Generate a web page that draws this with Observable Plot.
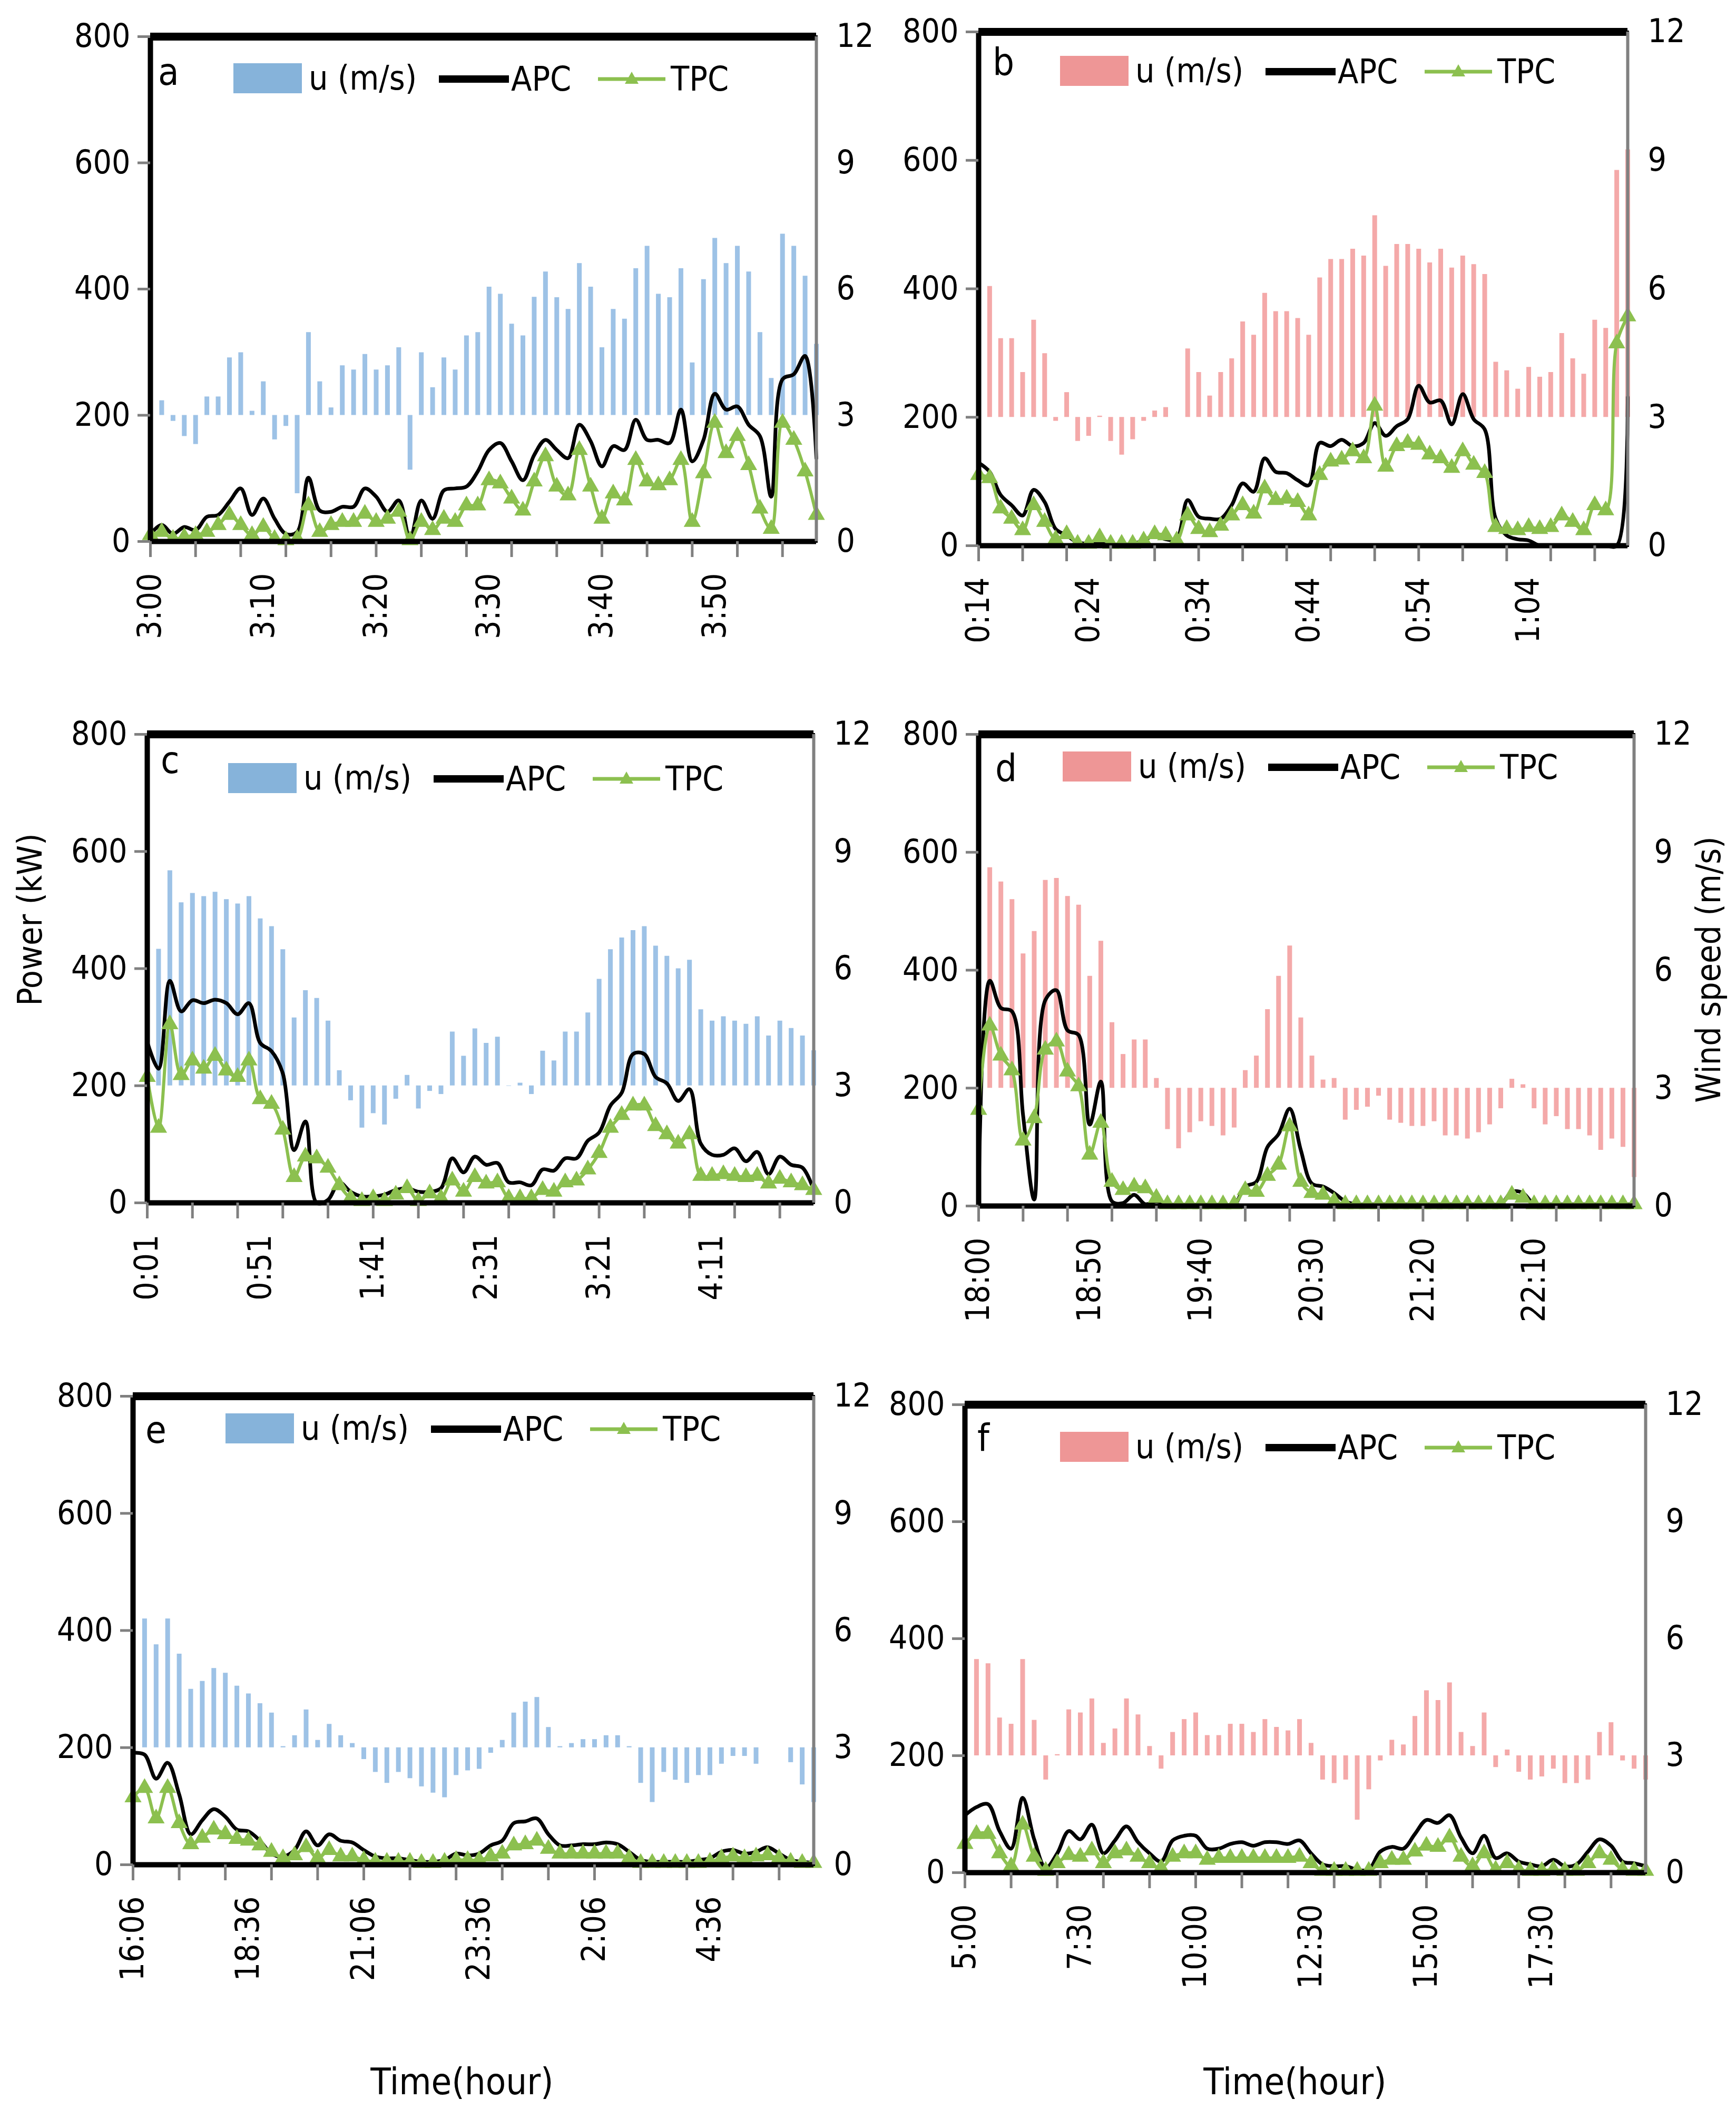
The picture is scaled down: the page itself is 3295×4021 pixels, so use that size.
<!DOCTYPE html>
<html>
<head>
<meta charset="utf-8">
<script src="https://cdn.jsdelivr.net/npm/d3@7"></script>
<script src="https://cdn.jsdelivr.net/npm/@observablehq/plot@0.6"></script>
<style>
  html, body { margin: 0; padding: 0; background: white; }
  #page { position: relative; width: 3295px; height: 4021px; background: white; overflow: hidden; }
  .title { position: absolute; font-family: "DejaVu Sans Condensed", "DejaVu Sans", sans-serif; font-stretch: condensed; color: black; white-space: nowrap; }
</style>
</head>
<body>
<div id="page"></div>
<script>
// wind speed u (m/s), 60 samples per panel
const uA = [3.0,3.35,2.86,2.50,2.31,3.44,3.44,4.37,4.49,3.10,3.80,2.42,2.74,1.14,4.97,3.80,3.18,4.18,4.08,4.45,4.08,4.18,4.61,1.70,4.49,3.66,4.37,4.08,4.89,4.97,6.05,5.88,5.17,4.89,5.81,6.41,5.80,5.52,6.61,6.05,4.61,5.52,5.29,6.49,7.02,5.88,5.80,6.49,4.25,6.23,7.21,6.61,7.02,6.41,4.97,3.88,7.31,7.02,6.31,4.69];
const uB = [6.0,6.06,4.84,4.84,4.05,5.27,4.49,2.91,3.58,2.44,2.56,3.03,2.44,2.12,2.48,2.91,3.15,3.23,3.0,4.60,4.05,3.50,4.05,4.37,5.23,4.92,5.90,5.47,5.47,5.31,4.92,6.26,6.69,6.69,6.93,6.77,7.71,6.53,7.04,7.04,6.93,6.61,6.93,6.49,6.77,6.57,6.34,4.29,4.09,3.66,4.17,3.94,4.05,4.96,4.37,4.01,5.27,5.08,8.77,9.25];
const uC = [3.0,6.50,8.51,7.69,7.93,7.85,7.96,7.77,7.66,7.85,7.28,7.08,6.49,4.74,5.44,5.24,4.66,3.39,2.62,1.92,2.29,2.00,2.66,3.27,2.41,2.86,2.78,4.38,3.76,4.46,4.09,4.25,2.99,3.07,2.78,3.89,3.64,4.38,4.38,4.87,5.73,6.49,6.79,6.98,7.08,6.58,6.32,6.00,6.22,4.95,4.66,4.77,4.66,4.58,4.77,4.28,4.66,4.47,4.28,3.90];
const uD = [7.1,8.61,8.25,7.80,6.42,6.99,8.29,8.34,7.88,7.66,5.85,6.74,4.67,3.86,4.23,4.23,3.25,1.95,1.46,1.87,2.15,2.03,1.79,1.99,3.45,3.82,5.00,5.85,6.62,4.79,3.82,3.21,3.25,2.19,2.44,2.52,2.80,2.19,2.11,2.03,2.03,2.15,1.79,1.79,1.71,1.87,2.07,2.48,3.23,3.09,2.48,2.07,2.28,1.95,1.95,1.79,1.42,1.71,1.50,0.73];
const uE = [3.0,6.30,5.64,6.30,5.40,4.50,4.70,5.03,4.91,4.58,4.38,4.13,3.89,3.03,3.31,3.97,3.19,3.60,3.31,3.11,2.70,2.37,2.09,2.37,2.21,2.00,1.84,1.72,2.29,2.41,2.45,2.86,3.19,3.89,4.17,4.29,3.52,3.03,3.11,3.21,3.21,3.31,3.31,3.03,2.09,1.60,2.37,2.17,2.09,2.29,2.29,2.58,2.78,2.78,2.58,3.0,3.0,2.62,2.05,1.60];
const uF = [3.0,5.47,5.36,3.97,3.81,5.47,3.91,2.38,3.03,4.18,4.10,4.46,3.32,3.69,4.46,4.05,3.24,2.66,3.60,3.93,4.10,3.52,3.52,3.81,3.81,3.60,3.93,3.73,3.64,3.93,3.32,2.38,2.29,2.38,1.35,2.13,2.87,3.40,3.28,4.01,4.67,4.42,4.87,3.60,3.24,4.10,2.70,3.15,2.58,2.38,2.46,2.66,2.29,2.29,2.38,3.60,3.85,2.87,2.66,2.38];

// actual power curve (kW)
const apcA = [12,26,12,23,18,39,42,63,84,42,68,36,12,15,101,49,47,55,55,84,71,47,65,4,65,36,81,84,87,111,145,156,127,97,137,161,145,132,185,159,119,151,145,193,161,161,156,209,127,161,234,209,214,185,167,71,257,265,294,132];
const apcB = [129,115,79,63,47,87,68,26,16,5,3,3,1,0,3,8,16,10,10,71,45,42,42,63,97,84,136,115,113,102,94,160,155,165,155,160,191,171,186,197,249,223,226,189,236,197,181,42,16,10,8,0,0,0,0,0,0,0,0,231];
const apcC = [275,229,379,327,346,341,347,341,322,341,273,259,221,90,139,0,5,35,19,11,11,14,22,25,19,19,25,76,52,79,65,68,35,35,30,57,55,76,76,106,120,166,188,254,254,215,204,174,194,101,82,82,93,71,87,49,79,65,60,22];
const apcD = [10,382,336,330,154,11,349,366,298,290,138,211,8,5,19,3,8,3,2,2,2,2,2,2,33,41,100,122,165,95,38,33,22,8,3,3,3,3,3,3,3,3,3,3,3,3,3,3,24,22,3,3,3,3,3,3,3,3,3,3];
const apcE = [191,188,147,174,120,52,76,95,82,60,57,41,19,14,25,57,33,52,41,38,25,14,11,11,8,5,5,8,19,16,19,33,41,71,74,79,52,33,33,35,35,38,35,22,8,5,5,5,5,8,11,22,25,19,22,30,19,8,5,3];
const apcF = [98,112,117,71,41,128,57,8,33,71,57,82,33,55,79,52,33,19,55,63,63,41,41,49,52,46,52,52,49,55,33,14,11,11,5,5,36,44,41,66,90,85,98,60,33,63,25,33,19,14,11,22,11,14,36,57,46,19,16,11];

// theoretical power curve (kW)
const tpcA = [10,15,4,7,10,15,26,42,26,10,23,4,2,4,57,15,26,31,31,44,31,36,47,2,31,18,36,31,57,57,97,92,68,49,95,135,87,73,145,87,36,76,65,129,95,89,97,129,31,108,188,140,167,121,52,20,188,161,111,42];
const tpcB = [110,105,58,42,24,63,37,10,18,3,3,13,3,3,3,8,18,16,8,47,26,21,31,47,63,50,89,71,73,68,47,110,131,134,147,136,218,123,155,160,157,142,136,121,147,126,113,29,26,24,29,26,29,47,37,24,63,55,315,357];
const tpcC = [215,128,305,218,243,229,251,226,215,243,177,169,125,44,79,76,60,30,8,3,8,3,14,25,3,16,8,38,19,44,33,35,8,8,8,22,19,35,38,57,85,128,150,166,166,131,117,101,117,46,46,49,46,44,46,33,41,35,30,22];
const tpcD = [163,306,255,230,111,149,265,279,228,203,87,141,41,27,33,30,14,3,3,3,3,3,3,3,27,24,51,70,135,41,22,19,8,3,3,3,3,3,3,3,3,3,3,3,3,3,3,3,19,14,3,3,3,3,3,3,3,3,3,3];
const tpcE = [115,131,79,131,71,35,46,60,52,44,41,33,22,11,16,30,11,25,14,14,8,5,5,5,5,3,3,5,8,8,8,14,19,33,35,41,27,19,19,19,19,19,19,11,3,3,3,3,3,3,5,11,14,11,14,16,11,5,3,3];
const tpcF = [49,66,66,33,11,82,27,3,16,30,27,38,16,33,38,27,16,8,27,33,33,22,25,25,25,25,25,25,25,27,16,3,3,3,3,3,16,22,22,36,46,44,60,27,11,33,5,16,5,3,3,5,3,3,16,33,22,5,3,3];

// time tick labels, one every 10 samples
const labelsA = ["3:00","3:10","3:20","3:30","3:40","3:50"];
const labelsB = ["0:14","0:24","0:34","0:44","0:54","1:04"];
const labelsC = ["0:01","0:51","1:41","2:31","3:21","4:11"];
const labelsD = ["18:00","18:50","19:40","20:30","21:20","22:10"];
const labelsE = ["16:06","18:36","21:06","23:36","2:06","4:36"];
const labelsF = ["5:00","7:30","10:00","12:30","15:00","17:30"];

const FONT = '"DejaVu Sans Condensed", "DejaVu Sans", "Liberation Sans Narrow", sans-serif';
const BLUE = "#9dc2e6", BLUE_SW = "#86b3da";
const PINK = "#f4a9a9", PINK_SW = "#ee9696";
const GREEN = "#8cc04f";
const GRAY = "#808080";
const M = {left: 200, right: 150, top: 40, bottom: 300};

const panels = [
  {letter: "a", u: uA, apc: apcA, tpc: tpcA, labels: labelsA, bar: BLUE, swatch: BLUE_SW, box: [285, 1549, 69, 1027], lx: 158, ly: 51, tx: 15, ty: 92},
  {letter: "b", u: uB, apc: apcB, tpc: tpcB, labels: labelsB, bar: PINK, swatch: PINK_SW, box: [1857, 3089, 60, 1035], lx: 155, ly: 46, tx: 27, ty: 82},
  {letter: "c", u: uC, apc: apcC, tpc: tpcC, labels: labelsC, bar: BLUE, swatch: BLUE_SW, box: [279, 1544, 1393, 2282], lx: 154, ly: 55, tx: 26, ty: 74},
  {letter: "d", u: uD, apc: apcD, tpc: tpcD, labels: labelsD, bar: PINK, swatch: PINK_SW, box: [1857, 3101, 1393, 2288], lx: 160, ly: 33, tx: 32, ty: 89},
  {letter: "e", u: uE, apc: apcE, tpc: tpcE, labels: labelsE, bar: BLUE, swatch: BLUE_SW, box: [252, 1544, 2649, 3538], lx: 176, ly: 33, tx: 24, ty: 89},
  {letter: "f", u: uF, apc: apcF, tpc: tpcF, labels: labelsF, bar: PINK, swatch: PINK_SW, box: [1831, 3123, 2665, 3553], lx: 181, ly: 52, tx: 24, ty: 88}
];

const page = document.getElementById("page");

function drawPanel(p) {
  const [L, R, T, B] = p.box;
  const data = p.u.map((u, i) => ({i, u, apc: p.apc[i], tpc: p.tpc[i]}));
  const svg = Plot.plot({
    width: (R - L) + M.left + M.right,
    height: (B - T) + M.top + M.bottom,
    marginLeft: M.left, marginRight: M.right, marginTop: M.top, marginBottom: M.bottom,
    style: {fontFamily: FONT, fontSize: "62px", color: "black", background: "transparent", overflow: "visible"},
    x: {domain: [0, 59], axis: null},
    y: {domain: [0, 800], axis: null},
    marks: [
      // wind speed bars hang from 3 m/s (= 200 kW on the left axis)
      Plot.ruleX(data, {x: "i", y1: 200, y2: d => d.u * 800 / 12, stroke: p.bar, strokeWidth: 9}),
      Plot.line(data, {x: "i", y: "apc", stroke: "black", strokeWidth: 7, curve: "catmull-rom"}),
      Plot.line(data, {x: "i", y: "tpc", stroke: GREEN, strokeWidth: 6, curve: "catmull-rom"}),
      Plot.dot(data, {x: "i", y: "tpc", symbol: "triangle", r: 12, fill: GREEN, stroke: null}),
      Plot.frame({stroke: "black", strokeWidth: 5}),
      Plot.ruleY([800], {stroke: "black", strokeWidth: 15}),
      Plot.ruleY([0], {stroke: "black", strokeWidth: 10}),
      Plot.ruleX([0], {stroke: "black", strokeWidth: 10}),
      Plot.ruleX([59], {stroke: GRAY, strokeWidth: 6}),
      Plot.axisY({ticks: [0, 200, 400, 600, 800], tickSize: 24, tickPadding: 14, stroke: GRAY, strokeWidth: 5, fill: "black", label: null}),
      Plot.axisY({anchor: "right", ticks: [0, 200, 400, 600, 800], tickFormat: d => d * 12 / 800, tickSize: 0, tickPadding: 38, fill: "black", label: null}),
      Plot.axisX({ticks: d3.range(0, 60, 4), tickSize: 30, tickFormat: () => "", stroke: GRAY, strokeWidth: 5, label: null}),
      Plot.axisX({ticks: d3.range(0, 60, 10), tickFormat: i => p.labels[i / 10], tickRotate: -90, tickSize: 0, tickPadding: 60, fill: "black", label: null})
    ]
  });
  svg.style.position = "absolute";
  svg.style.left = (L - M.left) + "px";
  svg.style.top = (T - M.top) + "px";
  svg.style.maxWidth = "none";

  // panel letter and legend inside the frame
  const g = d3.select(svg).append("g")
    .attr("font-family", FONT).attr("fill", "black").attr("text-anchor", "start");
  g.append("text").attr("x", M.left + p.tx).attr("y", M.top + p.ty).attr("font-size", 72).text(p.letter);
  const lg = g.append("g").attr("transform", `translate(${M.left + p.lx},${M.top + p.ly})`).attr("font-size", 64);
  lg.append("rect").attr("width", 130).attr("height", 57).attr("fill", p.swatch);
  lg.append("text").attr("x", 143).attr("y", 50).text("u (m/s)");
  lg.append("line").attr("x1", 390).attr("x2", 523).attr("y1", 30).attr("y2", 30).attr("stroke", "black").attr("stroke-width", 14);
  lg.append("text").attr("x", 527).attr("y", 52).text("APC");
  lg.append("line").attr("x1", 692).attr("x2", 820).attr("y1", 30).attr("y2", 30).attr("stroke", GREEN).attr("stroke-width", 7);
  lg.append("path").attr("d", "M756,16L769,39L743,39Z").attr("fill", GREEN);
  lg.append("text").attr("x", 830).attr("y", 52).text("TPC");

  page.appendChild(svg);
}

panels.forEach(drawPanel);

function title(text, x, y, size, rotate) {
  const d = document.createElement("div");
  d.className = "title";
  d.textContent = text;
  d.style.fontSize = size + "px";
  d.style.left = x + "px";
  d.style.top = y + "px";
  d.style.transform = `translate(-50%, -50%)${rotate ? " rotate(-90deg)" : ""}`;
  page.appendChild(d);
}
title("Power (kW)", 57, 1745, 64, true);
title("Wind speed (m/s)", 3243, 1840, 64, true);
title("Time(hour)", 877, 3950, 70, false);
title("Time(hour)", 2458, 3950, 70, false);
</script>
</body>
</html>
